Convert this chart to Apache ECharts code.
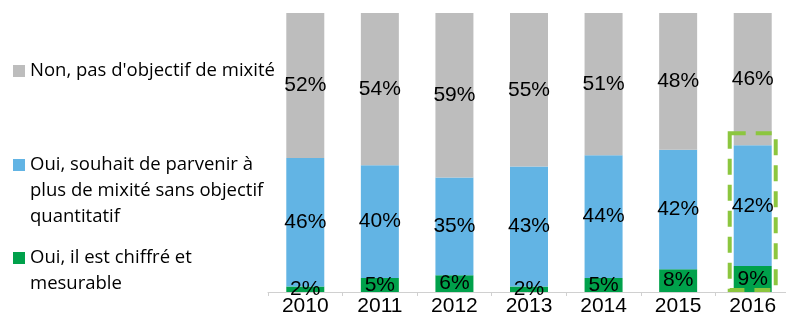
<!DOCTYPE html>
<html>
<head>
<meta charset="utf-8">
<script src="https://cdn.jsdelivr.net/npm/echarts@6/dist/echarts.min.js"></script>
<style>
  html, body { margin: 0; padding: 0; background: #fff; }
  #main { width: 786px; height: 317px; }
</style>
</head>
<body>
<div id="main"></div>
<script>
// années
var years = ['2010', '2011', '2012', '2013', '2014', '2015', '2016'];
// valeurs en %
var chiffre = [2, 5, 6, 2, 5, 8, 9];
var souhait = [46, 40, 35, 43, 44, 42, 42];
var nonObjectif = [52, 54, 59, 55, 51, 48, 46];
var seriesNames = [
    'Oui, il est chiffré et mesurable',
    'Oui, souhait de parvenir à plus de mixité sans objectif quantitatif',
    "Non, pas d'objectif de mixité"
];
var legendLabels = [
    'Oui, il est chiffré et\nmesurable',
    'Oui, souhait de parvenir à\nplus de mixité sans objectif\nquantitatif',
    "Non, pas d'objectif de mixité"
];
var colors = ['#00A14B', '#62B4E4', '#BDBDBD'];

var raw = [chiffre, souhait, nonObjectif];
// barres empilées à 100%
var totals = years.map(function (y, i) {
    return chiffre[i] + souhait[i] + nonObjectif[i];
});

var chart = echarts.init(document.getElementById('main'));

var series = raw.map(function (vals, s) {
    return {
        name: seriesNames[s],
        type: 'bar',
        stack: 'total',
        barWidth: 38,
        itemStyle: { color: colors[s] },
        label: {
            show: true,
            position: 'inside',
            color: '#000',
            fontFamily: 'Liberation Sans',
            fontSize: 21,
            formatter: function (p) { return vals[p.dataIndex] + '%'; }
        },
        data: vals.map(function (v, i) { return v / totals[i] * 100; })
    };
});

var option = {
    backgroundColor: '#fff',
    animation: false,
    grid: { left: 268, top: 13, width: 522, bottom: 25, outerBoundsMode: 'none' },
    xAxis: {
        type: 'category',
        data: years,
        axisLine: { lineStyle: { color: '#D0D0D0', width: 1 } },
        axisTick: { show: true, length: 4, lineStyle: { color: '#D0D0D0' } },
        axisLabel: {
            color: '#000',
            fontFamily: 'Liberation Sans',
            fontSize: 21,
            margin: 4
        }
    },
    yAxis: {
        type: 'value',
        min: 0,
        max: 100,
        show: false,
        splitLine: { show: false }
    },
    series: series
};
chart.setOption(option);

// légende à gauche (texte sur plusieurs lignes, carré aligné sur la 1re ligne)
var legendTop = [258, 165, 71];
var graphics = [];
legendLabels.forEach(function (txt, s) {
    graphics.push({
        type: 'rect',
        left: 13,
        top: legendTop[s] - 6,
        shape: { width: 12, height: 12 },
        style: { fill: colors[s] }
    });
    graphics.push({
        type: 'text',
        left: 30,
        top: legendTop[s] - 13,
        style: {
            text: txt,
            fill: '#000',
            font: '18.5px "Open Sans"',
            lineHeight: 26
        }
    });
});

// cadre pointillé autour de 2016
var last = years.length - 1;
var blueTop = (chiffre[last] + souhait[last]) / totals[last] * 100;
var pTop = chart.convertToPixel({ gridIndex: 0 }, [last, blueTop]);
var pBase = chart.convertToPixel({ gridIndex: 0 }, [last, 0]);
graphics.push({
    type: 'rect',
    shape: {
        x: pTop[0] - 23,
        y: pTop[1] - 12,
        width: 46,
        height: pBase[1] - pTop[1] + 10
    },
    style: {
        fill: 'none',
        stroke: '#8CC63F',
        lineWidth: 4,
        lineDash: [16, 10]
    },
    z: 10
});

chart.setOption({ graphic: graphics });
</script>
</body>
</html>
